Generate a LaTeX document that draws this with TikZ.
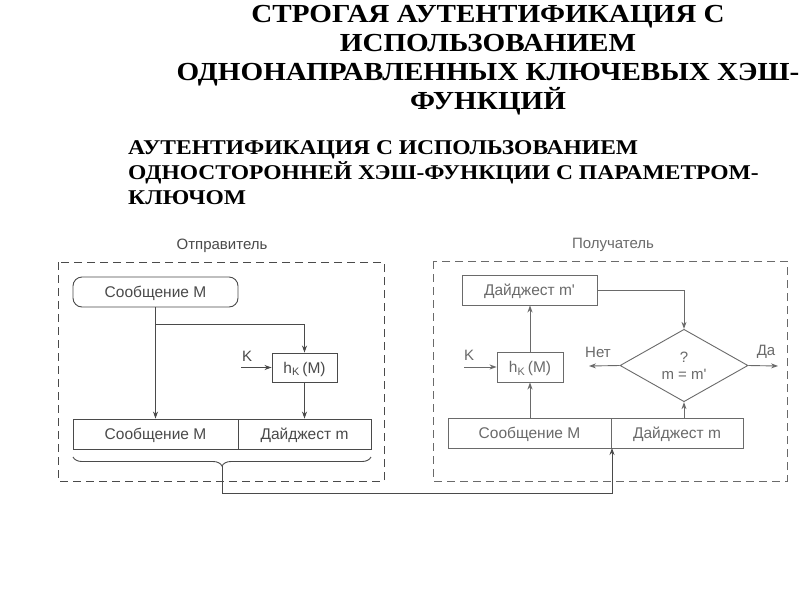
\documentclass[tikz,border=0pt]{standalone}
\usepackage{fontspec}
\setmainfont{Liberation Serif}
\newfontfamily\titlefont{Liberation Serif}[FakeStretch=1.12]
\newfontfamily\diagfont{Liberation Sans}
\usetikzlibrary{arrows.meta,shapes.geometric,decorations.pathreplacing}
\definecolor{ln}{HTML}{4A4A4A}
\definecolor{lnr}{HTML}{6A6A6A}
\tikzset{
  box/.style={draw=ln, line width=0.9pt, rectangle, inner sep=0pt, minimum height=30pt, text height=11pt, text depth=0pt, font=\diagfont\fontsize{15.5}{17}\selectfont, text=ln},
  rbox/.style={box, draw=lnr, text=lnr},
  arr/.style={draw=ln, line width=0.9pt, -{Stealth[length=7pt,width=5pt]}},
  arrr/.style={arr, draw=lnr},
  frame/.style={draw=ln, line width=0.9pt, dash pattern=on 8pt off 5pt},
  lbl/.style={font=\diagfont\fontsize{15}{17}\selectfont, text=ln, inner sep=0pt},
  ttl/.style={font=\titlefont\bfseries\fontsize{26}{29}\selectfont, align=center, inner sep=0pt},
  sub/.style={font=\titlefont\bfseries\fontsize{21}{25}\selectfont, align=left, inner sep=0pt, anchor=north west}
}
\begin{document}
\begin{tikzpicture}[x=1pt,y=-1pt]
\useasboundingbox (0,0) rectangle (800,600);
\fill[white] (0,0) rectangle (800,600);
% titles
\node[ttl] (title) at (488,60) {СТРОГАЯ АУТЕНТИФИКАЦИЯ С\\ИСПОЛЬЗОВАНИЕМ\\ОДНОНАПРАВЛЕННЫХ КЛЮЧЕВЫХ ХЭШ-\\ФУНКЦИЙ};
\node[sub] (subt) at (128,140) {АУТЕНТИФИКАЦИЯ С ИСПОЛЬЗОВАНИЕМ\\ОДНОСТОРОННЕЙ ХЭШ-ФУНКЦИИ С ПАРАМЕТРОМ-\\КЛЮЧОМ};
% frames
\draw[frame] (58,262) rectangle (384,481);
\draw[frame, draw=lnr] (433,261) rectangle (787,481);
\node[lbl] (sender) at (222,246) {Отправитель};
\node[lbl, text=lnr] (recv) at (613,245) {Получатель};
% left side
\node[box, rounded corners=9pt, minimum width=165pt] (msgL) at (155.5,292) {Сообщение М};
\node[box, minimum width=65pt, minimum height=29pt] (hkL) at (304.5,367.5) {h\textsubscript{K}\,(M)};
\node[box, minimum width=165pt] (rowL1) at (155.5,434) {Сообщение М};
\node[box, minimum width=133pt] (rowL2) at (304.5,434) {Дайджест m};
\coordinate (brL) at (155.5,324);
\draw[arr] (msgL.south) -- (rowL1.north);
\draw[arr] (brL) -| (hkL.north);
\draw[arr] (hkL.south) -- (rowL2.north);
\node[lbl] (kL) at (247,356) {K};
\coordinate (kLs) at (241,367.5);
\draw[arr] (kLs) -- (hkL.west);
\draw[draw=ln, line width=0.9pt, decorate, decoration={brace, mirror, amplitude=9pt}] (73,457) -- (371,457);
\coordinate (tip) at (222,466);
% right side
\node[rbox, minimum width=135pt] (dR) at (529.5,290) {Дайджест m'};
\node[rbox, minimum width=66pt] (hkR) at (530,367) {h\textsubscript{K}\,(M)};
\node[rbox, minimum width=163pt] (rowR1) at (529.5,433) {Сообщение М};
\node[rbox, minimum width=132pt] (rowR2) at (677,433) {Дайджест m};
\node[draw=lnr, line width=0.9pt, diamond, inner sep=0pt, minimum width=128pt, minimum height=63pt, align=center, font=\diagfont\fontsize{15}{17}\selectfont, text=lnr] (dia) at (684,365.5) {?\\m = m'};
\draw[arrr] (rowR1.north -| hkR) -- (hkR.south);
\draw[arrr] (hkR.north) -- (dR.south -| hkR);
\draw[arrr] (dR.east) -| (dia.north);
\draw[arrr] (dia.south |- rowR2.north) -- (dia.south);
\node[lbl, text=lnr] (kR) at (469,355) {K};
\coordinate (kRs) at (464,367);
\draw[arrr] (kRs) -- (hkR.west);
\coordinate (noE) at (589,366);
\coordinate (yesE) at (778,366);
\draw[arrr] (dia.west) -- (noE);
\draw[arrr] (dia.east) -- (yesE);
\node[lbl, text=lnr] (no) at (598,352) {Нет};
\node[lbl, text=lnr] (yes) at (766,352) {Да};
% transmission line
\coordinate (low) at (222,493);
\coordinate (inR) at (612,448);
\draw[arr] (tip) -- (low) -| (inR);
\end{tikzpicture}
\end{document}
